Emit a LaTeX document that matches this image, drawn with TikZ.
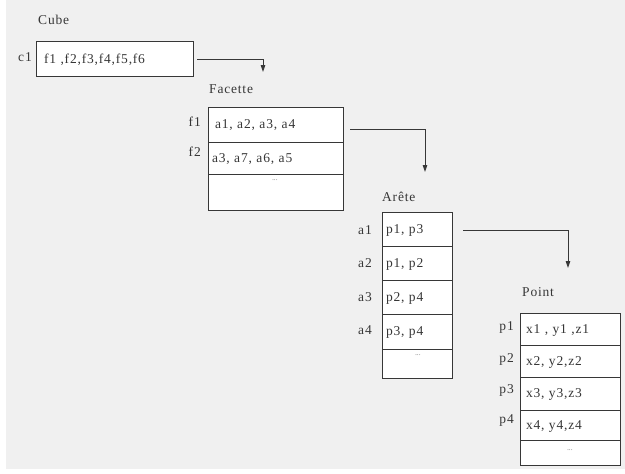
\documentclass[tikz,border=0pt]{standalone}
\usepackage{fontspec}
\setmainfont{Liberation Serif}[LetterSpace=6]
\usetikzlibrary{arrows.meta}
\definecolor{paper}{RGB}{240,240,240}
\definecolor{ink}{RGB}{55,55,55}
\begin{document}
\begin{tikzpicture}[x=1pt,y=-1pt,
  every node/.style={font=\fontsize{13.5}{15}\selectfont, text=ink},
  rowbox/.style={draw=ink, line width=1pt, fill=white, anchor=north west,
     inner sep=0pt, outer sep=0pt, align=left, text depth=0pt},
  title/.style={anchor=west, inner sep=0pt},
  lab/.style={anchor=east, inner sep=0pt},
  link/.style={draw=ink, line width=0.9pt, -{Triangle[length=7pt,width=4.5pt]}}]
\useasboundingbox (0,0) rectangle (625,474);
\fill[paper] (6,0) rectangle (625,469);
% Cube
\node[title] (tcube) at (38,20) {Cube};
\node[rowbox, minimum width=157pt, minimum height=35pt, text width=151pt] (c1) at (36,41) {\hspace*{5pt}f1 ,f2,f3,f4,f5,f6};
\node[lab] (lc1) at (32,57) {c1};
% Facette
\node[title] (tfac) at (209,89) {Facette};
\node[rowbox, minimum width=135pt, minimum height=35pt, text width=129pt] (f1) at (208,107) {\hspace*{4pt}a1, a2, a3, a4};
\node[rowbox, minimum width=135pt, minimum height=32pt, text width=129pt] (f2) at (208,142) {\hspace*{1pt}a3, a7, a6, a5};
\node[rowbox, minimum width=135pt, minimum height=36pt] (f3) at (208,174) {};
\node[inner sep=0pt] (fdots) at (275,180) {\fontsize{6}{6}\selectfont ...};
\node[lab] (lf1) at (201,122) {f1};
\node[lab] (lf2) at (201,152) {f2};
% Arete
\node[title] (tar) at (382,197) {Arête};
\node[rowbox, minimum width=70pt, minimum height=34pt, text width=66pt] (a1) at (382,212) {\hspace*{2pt}p1, p3};
\node[rowbox, minimum width=70pt, minimum height=34pt, text width=66pt] (a2) at (382,246) {\hspace*{2pt}p1, p2};
\node[rowbox, minimum width=70pt, minimum height=34pt, text width=66pt] (a3) at (382,280) {\hspace*{2pt}p2, p4};
\node[rowbox, minimum width=70pt, minimum height=35pt, text width=66pt] (a4) at (382,314) {\hspace*{2pt}p3, p4};
\node[rowbox, minimum width=70pt, minimum height=29pt] (a5) at (382,349) {};
\node[inner sep=0pt] (adots) at (418,355) {\fontsize{6}{6}\selectfont ...};
\node[lab] (la1) at (372,230) {a1};
\node[lab] (la2) at (372,263) {a2};
\node[lab] (la3) at (372,297) {a3};
\node[lab] (la4) at (372,330) {a4};
% Point
\node[title] (tpt) at (522,292) {Point};
\node[rowbox, minimum width=100pt, minimum height=32pt, text width=96pt] (p1) at (520,313) {\hspace*{4pt}x1 , y1 ,z1};
\node[rowbox, minimum width=100pt, minimum height=32pt, text width=96pt] (p2) at (520,345) {\hspace*{4pt}x2, y2,z2};
\node[rowbox, minimum width=100pt, minimum height=33pt, text width=96pt] (p3) at (520,377) {\hspace*{4pt}x3, y3,z3};
\node[rowbox, minimum width=100pt, minimum height=30pt, text width=96pt] (p4) at (520,410) {\hspace*{4pt}x4, y4,z4};
\node[rowbox, minimum width=100pt, minimum height=25pt] (p5) at (520,440) {};
\node[inner sep=0pt] (pdots) at (570,450) {\fontsize{6}{6}\selectfont ...};
\node[lab] (lp1) at (514,327) {p1};
\node[lab] (lp2) at (514,359) {p2};
\node[lab] (lp3) at (514,390) {p3};
\node[lab] (lp4) at (514,420) {p4};
% arrows
\coordinate (e1) at (263,72);
\coordinate (e2) at (425,172);
\coordinate (e3) at (568,268);
\draw[link] ([xshift=4pt,yshift=-1pt]c1.east) -| (e1);
\draw[link] ([xshift=7pt,yshift=-5pt]f1.east) -| (e2);
\draw[link] ([xshift=11pt,yshift=-1pt]a1.east) -| (e3);
\end{tikzpicture}
\end{document}
